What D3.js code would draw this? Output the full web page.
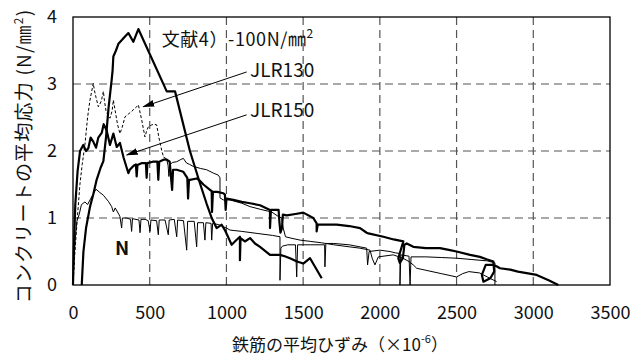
<!DOCTYPE html>
<html>
<head>
<meta charset="utf-8">
<script src="https://cdn.jsdelivr.net/npm/d3@7"></script>
<style>
  body { margin: 0; background: #fff; }
  svg text { font-family: "Noto Sans CJK JP", "Noto Sans", sans-serif; fill: #111; }
</style>
</head>
<body>
<div class="container-chart"></div>
<script>

// axis ticks
var xTicks = [0, 500, 1000, 1500, 2000, 2500, 3000, 3500];
var yTicks = [0, 1, 2, 3, 4];

// 文献4) 100N/mm2 (thick)
var bunken4 = [[57,0],[68,0.5],[85,0.85],[111,1.17],[132,1.35],[154,1.57],[180,1.75],[198,1.85],[215,2.2],[232,2.65],[252,3.06],[258,3.2],[263,3.41],[280,3.5],[296,3.6],[320,3.66],[339,3.71],[361,3.76],[393,3.63],[426,3.82],[611,2.89],[665,2.89],[762,2.0],[800,1.72],[830,1.5],[870,1.22],[904,1.0],[936,0.85],[969,0.9],[990,0.82],[1034,0.6],[1060,0.66],[1088,0.72],[1088,0.37],[1092,0.7],[1120,0.65],[1154,0.7],[1186,0.62],[1219,0.57],[1284,0.45],[1349,0.45],[1380,0.43],[1414,0.4],[1460,0.35],[1501,0.32],[1545,0.4],[1621,0.1]];

// JLR150 (thick)
var jlr150 = [[0,0],[5,0.5],[15,1.2],[30,1.7],[46,2.0],[67,2.09],[85,2.0],[100,2.04],[115,2.2],[132,2.14],[150,2.05],[165,2.2],[187,2.27],[200,2.4],[219,2.31],[241,2.09],[263,2.26],[285,2.06],[306,2.12],[330,1.9],[350,1.75],[361,1.67],[370,1.72],[395,1.78],[410,1.8],[415,1.62],[420,1.79],[450,1.82],[475,1.82],[480,1.6],[485,1.82],[520,1.84],[550,1.84],[556,1.57],[562,1.84],[590,1.87],[611,1.87],[630,1.84],[646,1.42],[652,1.72],[676,1.72],[719,1.69],[745,1.6],[750,1.29],[756,1.57],[762,1.57],[806,1.59],[830,1.55],[850,1.5],[893,1.42],[904,1.4],[906,1.09],[912,1.39],[940,1.39],[980,1.37],[990,1.35],[995,1.12],[1000,1.29],[1045,1.27],[1100,1.24],[1154,1.22],[1219,1.19],[1284,1.12],[1284,0.85],[1290,1.12],[1340,1.12],[1345,0.95],[1352,0.78],[1362,0.85],[1368,1.05],[1393,1.04],[1450,1.06],[1501,1.08],[1566,1.0],[1588,0.92],[1588,0.8],[1595,0.9],[1610,0.9],[1719,0.9],[1800,0.88],[1871,0.85],[1914,0.78],[1925,0.77],[2023,0.72],[2090,0.68],[2153,0.65],[2140,0.55],[2120,0.4],[2130,0.33],[2150,0.4],[2160,0.6],[2175,0.62],[2218,0.57],[2300,0.55],[2392,0.55],[2457,0.52],[2500,0.5],[2588,0.45],[2652,0.42],[2700,0.38],[2740,0.35],[2745,0.2],[2720,0.1],[2675,0.05],[2665,0.15],[2690,0.3],[2740,0.3],[2760,0.28],[2783,0.25],[2850,0.23],[2900,0.2],[3022,0.15],[3100,0.07],[3163,0]];

// JLR130, first part dashed, then thin solid
var jlr130a = [[0,0],[10,0.4],[25,0.9],[45,1.5],[60,1.8],[78,2.1],[95,2.5],[110,2.75],[132,3.01],[140,2.9],[150,2.8],[165,2.66],[175,2.7],[185,2.75],[198,2.89],[205,2.75],[215,2.6],[225,2.55],[241,2.49],[255,2.6],[263,2.76],[275,2.6],[290,2.4],[306,2.26],[320,2.35],[339,2.51],[360,2.55],[382,2.59],[400,2.63],[415,2.66],[426,2.69],[448,2.46],[469,2.21],[480,2.3],[491,2.36],[513,2.39],[530,2.4],[545,2.39],[560,2.2],[578,2.01],[590,1.91]];
var jlr130b = [[590,1.91],[610,1.88],[620,1.78],[625,1.62],[632,1.8],[650,1.83],[676,1.84],[700,1.87],[719,1.89],[740,1.82],[760,1.8],[784,1.77],[830,1.74],[871,1.72],[915,1.67],[947,1.64],[958,1.6],[958,1.3],[980,1.27],[1023,1.27],[1100,1.22],[1154,1.17],[1220,1.13],[1295,1.09],[1340,1.02],[1360,1.0],[1370,0.85],[1385,0.72],[1420,0.7],[1480,0.67],[1550,0.65],[1620,0.63],[1700,0.6],[1800,0.57],[1870,0.55],[1936,0.52],[1950,0.4],[1968,0.3],[1990,0.42],[2087,0.45],[2150,0.4],[2190,0.35],[2218,0.3],[2240,0.25],[2300,0.22],[2400,0.17],[2500,0.12],[2540,0.17],[2580,0.2],[2650,0.18],[2700,0.12],[2761,0.05]];

// N (thin)
var seriesN = [[0,0],[5,0.3],[15,0.7],[25,0.95],[40,1.05],[55,1.2],[78,1.24],[95,1.2],[111,1.27],[130,1.35],[150,1.43],[175,1.38],[198,1.34],[230,1.25],[252,1.17],[263,1.09],[275,1.15],[300,1.05],[306,1.02],[317,0.85],[322,1.0],[350,1.0],[375,0.98],[382,0.8],[388,0.99],[430,0.97],[437,0.78],[443,0.98],[470,0.98],[490,0.96],[502,0.8],[508,0.97],[545,0.96],[556,0.75],[562,0.97],[600,0.97],[621,0.75],[627,0.97],[660,0.98],[676,0.72],[682,0.97],[720,0.96],[741,0.52],[747,0.95],[790,0.95],[806,0.57],[812,0.93],[850,0.93],[860,0.67],[866,0.93],[900,0.92],[904,0.67],[910,0.92],[950,0.9],[969,0.88],[1000,0.85],[1023,0.82],[1100,0.8],[1200,0.77],[1300,0.74],[1349,0.72],[1349,0.07],[1355,0.55],[1365,0.58],[1400,0.6],[1450,0.6],[1458,0.12],[1464,0.6],[1550,0.6],[1640,0.6],[1642,0.27],[1648,0.62],[1700,0.62],[1800,0.6],[1914,0.55],[1920,0.3],[1930,0.5],[2000,0.52],[2066,0.5],[2100,0.48],[2131,0.47],[2131,0],[2137,0.45],[2190,0.43],[2197,0],[2203,0.42],[2300,0.42],[2400,0.41],[2500,0.4],[2600,0.38],[2700,0.36],[2750,0.33],[2750,0]];

// labels with arrows (data units)
var arrows = [
  { from: [1132, 3.18], to: [458, 2.66] },
  { from: [1132, 2.54], to: [350, 1.94] }
];
var labels = [
  { text: "JLR130", x: 1154, y: 3.11 },
  { text: "JLR150", x: 1154, y: 2.51 },
  { text: "N", x: 274, y: 0.45 }
];

var width = 642, height = 360;
var padL = 73, padR = 610, padT = 17, padB = 285;

var svg = d3.select(".container-chart").append("svg")
    .attr("width", width)
    .attr("height", height);

var x = d3.scaleLinear().domain([0, 3500]).range([padL, padR]);
var y = d3.scaleLinear().domain([0, 4]).range([padB, padT]);

// arrow head
svg.append("defs").append("marker")
    .attr("id", "arrow")
    .attr("markerUnits", "userSpaceOnUse")
    .attr("markerWidth", 12).attr("markerHeight", 8)
    .attr("refX", 11).attr("refY", 3.5)
    .attr("orient", "auto")
    .append("path").attr("d", "M0,0L12,3.5L0,7z").attr("fill", "#000");

// dashed grid
svg.append("g").selectAll("line")
    .data(xTicks.slice(1, -1))
    .enter().append("line")
    .attr("x1", function (d) { return x(d); })
    .attr("x2", function (d) { return x(d); })
    .attr("y1", padT).attr("y2", padB)
    .attr("stroke", "#555").attr("stroke-width", 1.2)
    .attr("stroke-dasharray", "8,5");
svg.append("g").selectAll("line")
    .data(yTicks.slice(1, -1))
    .enter().append("line")
    .attr("y1", function (d) { return y(d); })
    .attr("y2", function (d) { return y(d); })
    .attr("x1", padL).attr("x2", padR)
    .attr("stroke", "#555").attr("stroke-width", 1.2)
    .attr("stroke-dasharray", "8,5");

var line = d3.line()
    .x(function (d) { return x(d[0]); })
    .y(function (d) { return y(d[1]); });

function draw(data, w, dash) {
    svg.append("path")
        .datum(data)
        .attr("d", line)
        .attr("fill", "none")
        .attr("stroke", "#000")
        .attr("stroke-width", w)
        .attr("stroke-linejoin", "round")
        .attr("stroke-dasharray", dash || null);
}

draw(seriesN, 1);
draw(jlr130a, 1, "3,2");
draw(jlr130b, 1);
draw(jlr150, 2.2);
draw(bunken4, 2.2);

// frame
svg.append("rect")
    .attr("x", padL).attr("y", padT)
    .attr("width", padR - padL).attr("height", padB - padT)
    .attr("fill", "none").attr("stroke", "#000").attr("stroke-width", 1.3);

// axes
svg.append("g")
    .attr("transform", "translate(0," + padB + ")")
    .call(d3.axisBottom(x).tickValues(xTicks).tickSize(0).tickPadding(21).tickFormat(d3.format("d")));
svg.append("g")
    .attr("transform", "translate(" + padL + ",0)")
    .call(d3.axisLeft(y).tickValues(yTicks).tickSize(0).tickPadding(16).tickFormat(d3.format("d")));
svg.selectAll(".domain").remove();
svg.selectAll(".tick text").attr("font-size", 18)
    .style("font-family", '"Noto Sans CJK JP", sans-serif').attr("fill", "#111");

// axis titles
var xt = svg.append("text")
    .attr("x", 340).attr("y", 351)
    .attr("text-anchor", "middle")
    .attr("font-size", 17);
xt.append("tspan").text("鉄筋の平均ひずみ（×10");
xt.append("tspan").attr("font-size", 11).attr("dy", -8).text("-6");
xt.append("tspan").attr("dy", 8).text("）");

var yt = svg.append("text")
    .attr("transform", "translate(31,156) rotate(-90)")
    .attr("text-anchor", "middle")
    .attr("font-size", 19)
    .attr("letter-spacing", 1.2);
yt.append("tspan").text("コンクリートの平均応力 (N/㎜");
yt.append("tspan").attr("font-size", 12).attr("dy", -8).text("2");
yt.append("tspan").attr("dy", 8).text(")");

// annotations
var t4 = svg.append("text")
    .attr("x", x(578)).attr("y", y(3.56))
    .attr("font-size", 18)
    .attr("letter-spacing", 0.6);
t4.append("tspan").text("文献4）-100N/㎜");
t4.append("tspan").attr("font-size", 12).attr("dy", -8).text("2");

svg.selectAll(".arrow")
    .data(arrows)
    .enter().append("line")
    .attr("class", "arrow")
    .attr("x1", function (d) { return x(d.from[0]); })
    .attr("y1", function (d) { return y(d.from[1]); })
    .attr("x2", function (d) { return x(d.to[0]); })
    .attr("y2", function (d) { return y(d.to[1]); })
    .attr("stroke", "#000").attr("stroke-width", 1)
    .attr("marker-end", "url(#arrow)");

svg.selectAll(".lab")
    .data(labels)
    .enter().append("text")
    .attr("class", "lab")
    .attr("x", function (d) { return x(d.x); })
    .attr("y", function (d) { return y(d.y); })
    .attr("font-size", function (d) { return d.text == "N" ? 19 : 19; })
    .attr("font-weight", function (d) { return d.text == "N" ? "bold" : null; })
    .text(function (d) { return d.text; });

</script>
</body>
</html>
